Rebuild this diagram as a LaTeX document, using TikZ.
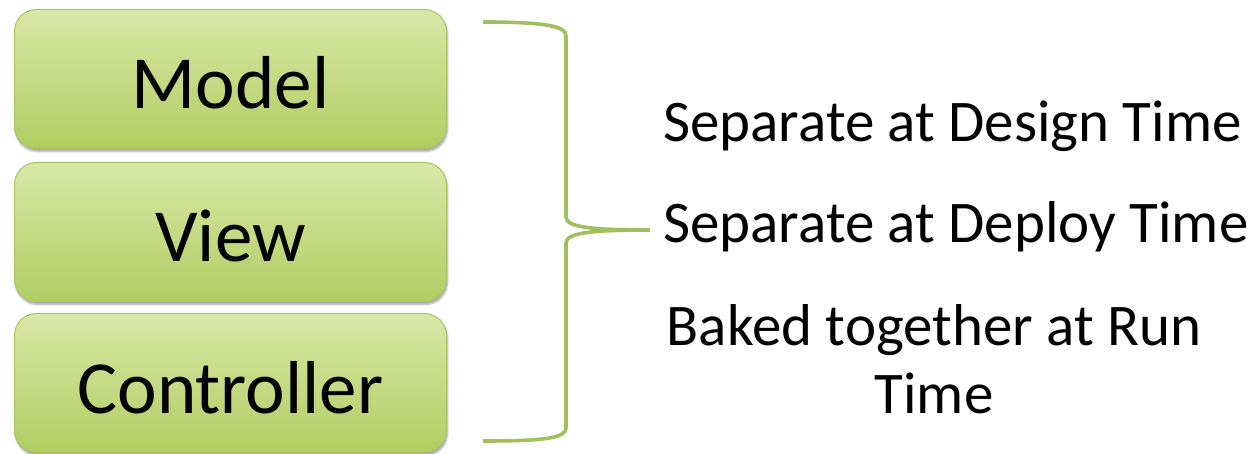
\documentclass[tikz,border=0pt]{standalone}
\usepackage{fontspec}
\setmainfont{Carlito}
\usetikzlibrary{shadows.blur}
\definecolor{boxtop}{RGB}{217,231,166}
\definecolor{boxbot}{RGB}{176,205,98}
\definecolor{boxline}{RGB}{168,197,100}
\definecolor{bracecol}{RGB}{160,192,92}
\tikzset{
  mvcbox/.style={rounded corners=22pt, top color=boxtop, bottom color=boxbot,
    draw=boxline, line width=1pt, minimum width=432pt, minimum height=139pt,
    inner sep=0pt, text height=60pt, text depth=0pt, font=\fontsize{75}{86}\selectfont,
    blur shadow={shadow blur steps=6, shadow xshift=1pt, shadow yshift=-3pt, shadow opacity=35}},
  sidetext/.style={inner sep=0pt, font=\fontsize{59}{68}\selectfont},
  bracestyle/.style={draw=bracecol, line width=3.6pt}
}
\begin{document}
\begin{tikzpicture}[x=1pt,y=-1pt]
\useasboundingbox (0,0) rectangle (1253,454);
\node[mvcbox] (model) at (230.5,79) {Model};
\node[mvcbox] (view) at (230.5,232) {View};
\node[mvcbox] (ctrl) at (230.5,383) {Controller};
\coordinate (btop) at (483,22);
\coordinate (bbot) at (483,441);
\coordinate (tip) at (650,230);
\draw[bracestyle] (btop) .. controls (545,22) and (566,26) .. (566,36) -- (566,217)
  .. controls (566,227) and (590,230) .. (tip)
  .. controls (590,230) and (566,233) .. (566,243) -- (566,428)
  .. controls (566,438) and (545,441) .. (bbot);
\node[sidetext, anchor=base west] (t1) at (663,142) {Separate at Design Time};
\node[sidetext, anchor=base west] (t2) at (663,243) {Separate at Deploy Time};
\node[sidetext, anchor=base, align=center] (t3) at (934,413) {Baked together at Run\\Time};
\end{tikzpicture}
\end{document}
